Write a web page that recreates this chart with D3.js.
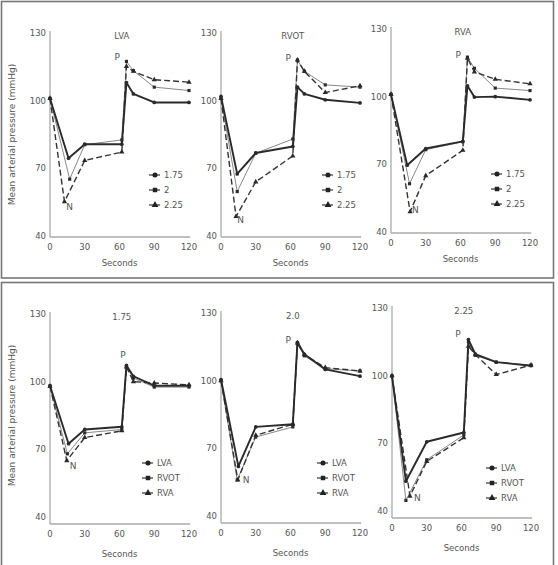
<!DOCTYPE html>
<html>
<head>
<meta charset="utf-8">
<script src="https://cdn.jsdelivr.net/npm/d3@7"></script>
<style>
  body { margin: 0; background: #fff; }
  text { font-family: "DejaVu Sans", sans-serif; fill: #555; }
</style>
</head>
<body>
<div id="chart"></div>
<script>
// time points (s); the second point is the nadir, its time given per panel below
var seconds = [0, null, 30, 62, 66, 72, 90, 120];
var xTicks = [0, 30, 60, 90, 120];
var yTicks = [40, 70, 100, 130];

// top row: one site per panel, three doses
var doseNames = ["1.75", "2", "2.25"];
var lva175 = [101, 74.5, 80.7, 80.7, 108, 103, 99.2, 99.2];
var lva2 = [101, 65.2, 80.5, 82.6, 117.4, 113.3, 106, 104.5];
var lva225 = [101, 55.2, 73.5, 77.2, 115.2, 113, 109.3, 108.2];
var lvaNadir = [16, 17, 12.5];

var rvot175 = [101.9, 67.5, 76.8, 79.7, 106, 103, 100.4, 99];
var rvot2 = [101, 59.7, 76.7, 83, 118, 113, 107, 106];
var rvot225 = [101, 48.6, 64, 75.5, 118, 113, 103.6, 106.6];
var rvotNadir = [14, 14, 13];

var rva175 = [101, 69.6, 77, 80.2, 104.8, 99.8, 100, 98.6];
var rva2 = [101, 61.4, 76.5, 80, 117.5, 112.6, 103.8, 102.7];
var rva225 = [101, 49, 65, 76.2, 117, 111, 107.7, 105.7];
var rvaNadir = [14, 16, 16.5];

// bottom row: one dose per panel, three sites
var siteNames = ["LVA", "RVOT", "RVA"];
var d175lva = [98.2, 72.5, 78.8, 80, 107.2, 102.4, 98.2, 98.2];
var d175rvot = [98, 68, 77.3, 78.8, 106.6, 101.6, 97.6, 97.6];
var d175rva = [98, 65, 75.2, 78.2, 106.5, 100, 99.4, 98.6];
var d175Nadir = [16, 15, 14.5];

var d2lva = [100.5, 62, 79.5, 80.7, 117, 111.7, 105, 102];
var d2rvot = [100, 56, 75, 79.5, 116.4, 111, 105.3, 104.3];
var d2rva = [100, 56, 75.8, 80.7, 116.7, 111.5, 105.8, 104.3];
var d2Nadir = [15, 14, 14.5];

var d225lva = [99.7, 53.2, 70.7, 74.8, 116, 109.5, 106, 104.4];
var d225rvot = [100, 44.7, 62.7, 73.7, 115, 109, 106, 104.7];
var d225rva = [100, 46.6, 62, 72.5, 113, 109.3, 100.5, 104.7];
var d225Nadir = [12, 12, 15.5];

// annotation anchors [seconds, mmHg]
var pMarks = [[58, 119.3], [58, 119], [58, 118.5], [63, 112], [58, 118], [57, 118.6]];
var nMarks = [[17, 53], [17, 47], [21, 49.7], [20, 62.6], [21.6, 56], [22, 45.7]];

var panels = [
  { title: "LVA", names: doseNames, series: [lva175, lva2, lva225], nadir: lvaNadir,
    x0: 50, y0: 33, lx: 149, ly: 175, yLabel: true },
  { title: "RVOT", names: doseNames, series: [rvot175, rvot2, rvot225], nadir: rvotNadir,
    x0: 221, y0: 33, lx: 322, ly: 175 },
  { title: "RVA", names: doseNames, series: [rva175, rva2, rva225], nadir: rvaNadir,
    x0: 391, y0: 29, lx: 491, ly: 174 },
  { title: "1.75", names: siteNames, series: [d175lva, d175rvot, d175rva], nadir: d175Nadir,
    x0: 50, y0: 314, lx: 142, ly: 463, yLabel: true, bottom: true },
  { title: "2.0", names: siteNames, series: [d2lva, d2rvot, d2rva], nadir: d2Nadir,
    x0: 221, y0: 313, lx: 317, ly: 463, bottom: true },
  { title: "2.25", names: siteNames, series: [d225lva, d225rvot, d225rva], nadir: d225Nadir,
    x0: 392, y0: 308, lx: 486, ly: 468, bottom: true }
];

var styles = [
  { stroke: "#2a2a2a", width: 1.9, dash: null, shape: d3.symbolCircle, size: 11 },
  { stroke: "#888", width: 1, dash: null, shape: d3.symbolSquare, size: 10 },
  { stroke: "#333", width: 1.4, dash: "6,3", shape: d3.symbolTriangle, size: 12 }
];

var W = 558, H = 565;
var svg = d3.select("#chart").append("svg")
    .attr("width", W)
    .attr("height", H);

// frames
svg.append("rect").attr("x", 1.5).attr("y", 1.5).attr("width", 552).attr("height", 276.5)
    .attr("fill", "none").attr("stroke", "#777").attr("stroke-width", 1.6);
svg.append("rect").attr("x", 1.5).attr("y", 282.5).attr("width", 552).attr("height", 290)
    .attr("fill", "none").attr("stroke", "#777").attr("stroke-width", 1.6);

panels.forEach(function(p, pi) {
  var x = d3.scaleLinear().domain([0, 120]).range([p.x0, p.x0 + 139]);
  var y = d3.scaleLinear().domain([40, 130]).range([p.y0 + 203, p.y0]);
  var g = svg.append("g");
  var axisY = p.bottom ? y(40) + 7 : y(40) + 1;

  // axes
  g.append("line").attr("x1", x(0)).attr("x2", x(0)).attr("y1", y(130) - 2).attr("y2", axisY)
      .attr("stroke", "#aaa").attr("stroke-width", 1.3);
  g.append("line").attr("x1", x(0)).attr("x2", x(121)).attr("y1", axisY).attr("y2", axisY)
      .attr("stroke", "#aaa").attr("stroke-width", 1.3);

  g.selectAll(".ytick").data(yTicks).enter().append("text")
      .attr("x", x(0) - 4)
      .attr("y", function(d) { return y(d); })
      .attr("dy", "0.35em")
      .attr("text-anchor", "end")
      .attr("font-size", 8.5)
      .text(function(d) { return d; });

  g.selectAll(".xtick").data(xTicks).enter().append("text")
      .attr("x", function(d) { return x(d); })
      .attr("y", axisY + 13)
      .attr("text-anchor", "middle")
      .attr("font-size", 8.5)
      .text(function(d) { return d; });

  g.append("text")
      .attr("x", x(60))
      .attr("y", p.bottom ? axisY + 33 : axisY + 29)
      .attr("text-anchor", "middle")
      .attr("font-size", 8.5)
      .text("Seconds");

  g.append("text")
      .attr("x", x(62))
      .attr("y", y(130) + 6)
      .attr("text-anchor", "middle")
      .attr("font-size", 8.5)
      .text(p.title);

  if (p.yLabel) {
    g.append("text")
        .attr("transform", "translate(15," + y(85) + ") rotate(-90)")
        .attr("text-anchor", "middle")
        .attr("font-size", 9)
        .text("Mean arterial pressure  (mmHg)");
  }

  // series, drawn light first so the heavy line sits on top
  [1, 2, 0].forEach(function(si) {
    var vals = p.series[si];
    var st = styles[si];
    var pts = vals.map(function(v, i) {
      return [i === 1 ? p.nadir[si] : seconds[i], v];
    });
    var line = d3.line()
        .x(function(d) { return x(d[0]); })
        .y(function(d) { return y(d[1]); });
    g.append("path")
        .datum(pts)
        .attr("d", line)
        .attr("fill", "none")
        .attr("stroke", st.stroke)
        .attr("stroke-width", st.width)
        .attr("stroke-dasharray", st.dash)
        .attr("stroke-linejoin", "round");
    g.selectAll(null).data(pts).enter().append("path")
        .attr("d", d3.symbol().type(st.shape).size(st.size))
        .attr("transform", function(d) { return "translate(" + x(d[0]) + "," + y(d[1]) + ")"; })
        .attr("fill", "#2a2a2a");
  });

  // P and N labels
  g.append("text")
      .attr("x", x(pMarks[pi][0])).attr("y", y(pMarks[pi][1]))
      .attr("dy", "0.35em").attr("text-anchor", "middle").attr("font-size", 9)
      .text("P");
  g.append("text")
      .attr("x", x(nMarks[pi][0])).attr("y", y(nMarks[pi][1]))
      .attr("dy", "0.35em").attr("text-anchor", "middle").attr("font-size", 9)
      .text("N");

  // legend
  var leg = g.selectAll(".leg").data(p.names).enter().append("g")
      .attr("transform", function(d, i) { return "translate(" + p.lx + "," + (p.ly + i * 15) + ")"; });
  leg.append("line").attr("x1", 0).attr("x2", 11).attr("y1", 0).attr("y2", 0)
      .attr("stroke", "#222").attr("stroke-width", 1.1);
  leg.append("path")
      .attr("d", function(d, i) { return d3.symbol().type(styles[i].shape).size(20)(); })
      .attr("transform", "translate(6,0)")
      .attr("fill", "#222");
  leg.append("text")
      .attr("x", 15).attr("y", 0).attr("dy", "0.35em")
      .attr("font-size", 8.5)
      .text(function(d) { return d; });
});
</script>
</body>
</html>
